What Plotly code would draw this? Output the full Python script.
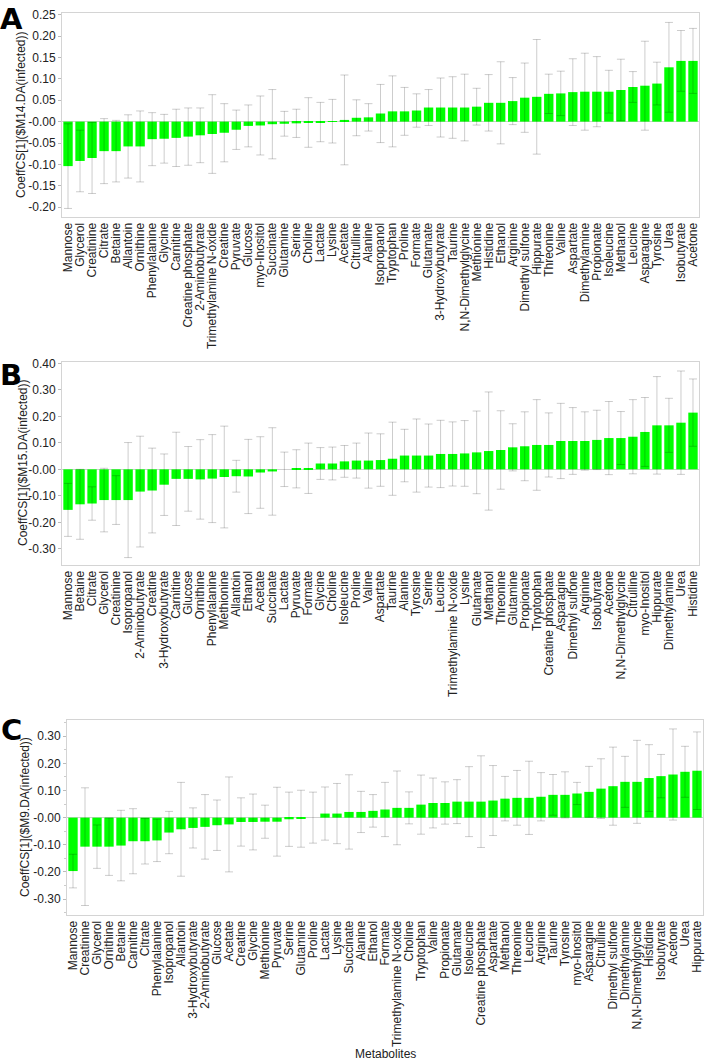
import plotly.graph_objects as go

# ---------------- Panel A data ----------------
names_a = ["Mannose", "Glycerol", "Creatinine", "Citrate", "Betaine", "Allantoin", "Ornithine",
           "Phenylalanine", "Glycine", "Carnitine", "Creatine phosphate", "2-Aminobutyrate",
           "Trimethylamine N-oxide", "Creatine", "Pyruvate", "Glucose", "myo-Inositol", "Succinate",
           "Glutamine", "Serine", "Choline", "Lactate", "Lysine", "Acetate", "Citrulline", "Alanine",
           "Isopropanol", "Tryptophan", "Proline", "Formate", "Glutamate", "3-Hydroxybutyrate",
           "Taurine", "N,N-Dimethylglycine", "Methionine", "Histidine", "Ethanol", "Arginine",
           "Dimethyl sulfone", "Hippurate", "Threonine", "Valine", "Aspartate", "Dimethylamine",
           "Propionate", "Isoleucine", "Methanol", "Leucine", "Asparagine", "Tyrosine", "Urea",
           "Isobutyrate", "Acetone"]
vals_a = [-0.104, -0.092, -0.085, -0.069, -0.069, -0.058, -0.058, -0.041, -0.040, -0.038,
          -0.035, -0.032, -0.029, -0.026, -0.019, -0.010, -0.009, -0.006, -0.005, -0.004,
          -0.002, -0.001, 0.001, 0.004, 0.009, 0.010, 0.019, 0.024, 0.024, 0.026,
          0.033, 0.033, 0.033, 0.033, 0.035, 0.044, 0.044, 0.048, 0.056, 0.058,
          0.065, 0.066, 0.069, 0.070, 0.070, 0.070, 0.074, 0.081, 0.084, 0.089,
          0.127, 0.142, 0.142]
err_a = [0.099, 0.072, 0.083, 0.076, 0.072, 0.074, 0.083, 0.062, 0.057, 0.067,
         0.067, 0.064, 0.092, 0.068, 0.046, 0.049, 0.069, 0.081, 0.029, 0.033,
         0.058, 0.046, 0.051, 0.105, 0.042, 0.032, 0.068, 0.083, 0.056, 0.039,
         0.042, 0.069, 0.072, 0.078, 0.043, 0.066, 0.096, 0.055, 0.081, 0.134,
         0.046, 0.052, 0.078, 0.090, 0.082, 0.050, 0.072, 0.036, 0.104, 0.050,
         0.105, 0.071, 0.076]
ticks_a = [0.25, 0.20, 0.15, 0.10, 0.05, 0.0, -0.05, -0.10, -0.15, -0.20]
ticktext_a = ["0.25", "0.20", "0.15", "0.10", "0.05", "-0.00", "-0.05", "-0.10", "-0.15", "-0.20"]

# ---------------- Panel B data ----------------
names_b = ["Mannose", "Betaine", "Citrate", "Glycerol", "Creatinine", "Isopropanol",
           "2-Aminobutyrate", "Creatine", "3-Hydroxybutyrate", "Carnitine", "Glucose", "Ornithine",
           "Phenylalanine", "Methionine", "Allantoin", "Ethanol", "Acetate", "Succinate", "Lactate",
           "Pyruvate", "Formate", "Glycine", "Choline", "Isoleucine", "Proline", "Valine",
           "Aspartate", "Taurine", "Alanine", "Tyrosine", "Serine", "Leucine",
           "Trimethylamine N-oxide", "Lysine", "Glutamate", "Methanol", "Threonine", "Glutamine",
           "Propionate", "Tryptophan", "Creatine phosphate", "Asparagine", "Dimethyl sulfone",
           "Arginine", "Isobutyrate", "Acetone", "N,N-Dimethylglycine", "Citrulline", "myo-Inositol",
           "Hippurate", "Dimethylamine", "Urea", "Histidine"]
vals_b = [-0.153, -0.132, -0.129, -0.116, -0.116, -0.116, -0.084, -0.080, -0.058, -0.036,
          -0.036, -0.038, -0.035, -0.029, -0.026, -0.027, -0.012, -0.008, 0.000, 0.002,
          0.004, 0.022, 0.022, 0.030, 0.033, 0.033, 0.035, 0.040, 0.052, 0.052,
          0.052, 0.058, 0.058, 0.060, 0.064, 0.069, 0.073, 0.083, 0.087, 0.092,
          0.092, 0.107, 0.107, 0.107, 0.111, 0.118, 0.118, 0.123, 0.141, 0.166,
          0.166, 0.176, 0.214]
err_b = [0.100, 0.132, 0.063, 0.120, 0.092, 0.217, 0.209, 0.160, 0.116, 0.176,
         0.122, 0.150, 0.166, 0.192, 0.060, 0.140, 0.135, 0.165, 0.065, 0.072,
         0.095, 0.060, 0.062, 0.060, 0.066, 0.104, 0.099, 0.138, 0.099, 0.138,
         0.119, 0.127, 0.121, 0.124, 0.156, 0.223, 0.148, 0.089, 0.130, 0.171,
         0.121, 0.142, 0.126, 0.110, 0.112, 0.138, 0.100, 0.140, 0.130, 0.184,
         0.102, 0.195, 0.127]
ticks_b = [0.40, 0.30, 0.20, 0.10, 0.0, -0.10, -0.20, -0.30]
ticktext_b = ["0.40", "0.30", "0.20", "0.10", "-0.00", "-0.10", "-0.20", "-0.30"]

# ---------------- Panel C data ----------------
names_c = ["Mannose", "Creatinine", "Glycerol", "Ornithine", "Betaine", "Carnitine", "Citrate",
           "Phenylalanine", "Isopropanol", "Allantoin", "3-Hydroxybutyrate", "2-Aminobutyrate",
           "Glucose", "Acetate", "Creatine", "Glycine", "Methionine", "Pyruvate", "Serine",
           "Glutamine", "Proline", "Lactate", "Lysine", "Succinate", "Alanine", "Ethanol",
           "Formate", "Trimethylamine N-oxide", "Choline", "Tryptophan", "Valine", "Propionate",
           "Glutamate", "Isoleucine", "Creatine phosphate", "Aspartate", "Methanol", "Threonine",
           "Leucine", "Arginine", "Taurine", "Tyrosine", "myo-Inositol", "Asparagine", "Citrulline",
           "Dimethyl sulfone", "Dimethylamine", "N,N-Dimethylglycine", "Histidine", "Isobutyrate",
           "Acetone", "Urea", "Hippurate"]
vals_c = [-0.197, -0.107, -0.107, -0.107, -0.103, -0.087, -0.087, -0.084, -0.055, -0.043,
          -0.038, -0.034, -0.028, -0.025, -0.016, -0.016, -0.015, -0.015, -0.006, -0.004,
          0.000, 0.015, 0.015, 0.021, 0.021, 0.025, 0.030, 0.036, 0.036, 0.048,
          0.054, 0.054, 0.059, 0.059, 0.059, 0.063, 0.070, 0.073, 0.073, 0.077,
          0.084, 0.084, 0.089, 0.095, 0.107, 0.116, 0.132, 0.132, 0.146, 0.153,
          0.159, 0.169, 0.173]
err_c = [0.062, 0.217, 0.080, 0.106, 0.130, 0.120, 0.084, 0.078, 0.078, 0.173,
         0.074, 0.119, 0.093, 0.175, 0.089, 0.103, 0.061, 0.127, 0.100, 0.105,
         0.094, 0.098, 0.111, 0.137, 0.076, 0.060, 0.100, 0.136, 0.059, 0.109,
         0.092, 0.078, 0.081, 0.129, 0.169, 0.129, 0.082, 0.101, 0.135, 0.089,
         0.075, 0.085, 0.041, 0.094, 0.110, 0.144, 0.094, 0.153, 0.123, 0.080,
         0.168, 0.094, 0.143]
ticks_c = [0.30, 0.20, 0.10, 0.0, -0.10, -0.20, -0.30]
ticktext_c = ["0.30", "0.20", "0.10", "-0.00", "-0.10", "-0.20", "-0.30"]

ytitles = ["CoeffCS[1]($M14.DA(infected))", "CoeffCS[1]($M15.DA(infected))",
           "CoeffCS[1]($M9.DA(infected))"]
letters = ["A", "B", "C"]

W, H = 709, 1062
FONT = "Liberation Sans, Arial, sans-serif"

fig = go.Figure()

panels = [
    # names, vals, errs, ticks, ticktext, x-domain(px), y-domain(px top,bottom), yrange
    (names_a, vals_a, err_a, ticks_a, ticktext_a, (62, 699), (13, 217), (-0.223, 0.254)),
    (names_b, vals_b, err_b, ticks_b, ticktext_b, (62, 699), (362, 565), (-0.361, 0.405)),
    (names_c, vals_c, err_c, ticks_c, ticktext_c, (67, 703), (720, 915), (-0.359, 0.36)),
]

title_pos = [(21, 115), (23, 463), (25, 817)]
letter_pos = [(11, 0), (11, 356), (11, 711)]

for i, (nm, vl, er, tv, tt, xd, yd, yr) in enumerate(panels):
    k = "" if i == 0 else str(i + 1)
    fig.add_trace(go.Bar(
        x=nm, y=vl, xaxis="x" + k, yaxis="y" + k,
        marker=dict(color="#00ff00", line=dict(width=0)),
        width=0.78,
        error_y=dict(type="data", array=er, symmetric=True,
                     color="rgba(0,0,0,0.2)", thickness=1, width=4),
        showlegend=False,
    ))
    xdom = [xd[0] / W, xd[1] / W]
    ydom = [(H - yd[1]) / H, (H - yd[0]) / H]
    fig.update_layout(**{
        "xaxis" + k: dict(domain=xdom, anchor="y" + k, type="category",
                          categoryorder="array", categoryarray=nm,
                          tickmode="linear", tick0=0, dtick=1,
                          range=[-0.5, len(nm) - 0.5], tickangle=-90,
                          tickfont=dict(family=FONT, size=12, color="#222"),
                          ticks="", showline=True, linecolor="#d4d4d4", linewidth=1,
                          mirror=True, showgrid=False, automargin=False, fixedrange=True),
        "yaxis" + k: dict(domain=ydom, anchor="x" + k, range=list(yr),
                          tickvals=tv, ticktext=tt,
                          tickfont=dict(family=FONT, size=12, color="#222"),
                          ticks="outside", ticklen=3, tickcolor="#bbbbbb",
                          minor=dict(ticks="outside", ticklen=2, tickcolor="#cccccc", nticks=3),
                          showline=True, linecolor="#d4d4d4", linewidth=1, mirror=True,
                          showgrid=False, zeroline=True, zerolinecolor="#cfcfcf",
                          zerolinewidth=1, automargin=False, fixedrange=True),
    })
    fig.add_annotation(x=title_pos[i][0] / W, y=(H - title_pos[i][1]) / H,
                       xref="paper", yref="paper", text=ytitles[i], textangle=-90,
                       showarrow=False, font=dict(family=FONT, size=12, color="#222"),
                       xanchor="center", yanchor="middle")
    fig.add_annotation(x=letter_pos[i][0] / W, y=(H - letter_pos[i][1]) / H,
                       xref="paper", yref="paper", text="<b>" + letters[i] + "</b>",
                       showarrow=False,
                       font=dict(family="DejaVu Sans, Arial Black, sans-serif", size=29,
                                 color="#000"),
                       xanchor="center", yanchor="top")

fig.add_annotation(x=385 / W, y=(H - 1054) / H, xref="paper", yref="paper",
                   text="Metabolites", showarrow=False,
                   font=dict(family=FONT, size=12, color="#222"),
                   xanchor="center", yanchor="middle")

fig.update_layout(width=W, height=H, margin=dict(l=0, r=0, t=0, b=0),
                  paper_bgcolor="white", plot_bgcolor="white", bargap=0.22)

fig.write_html("out.html", config={"displayModeBar": False},
               post_script="document.body.style.margin='0';document.body.style.overflow='hidden';")
